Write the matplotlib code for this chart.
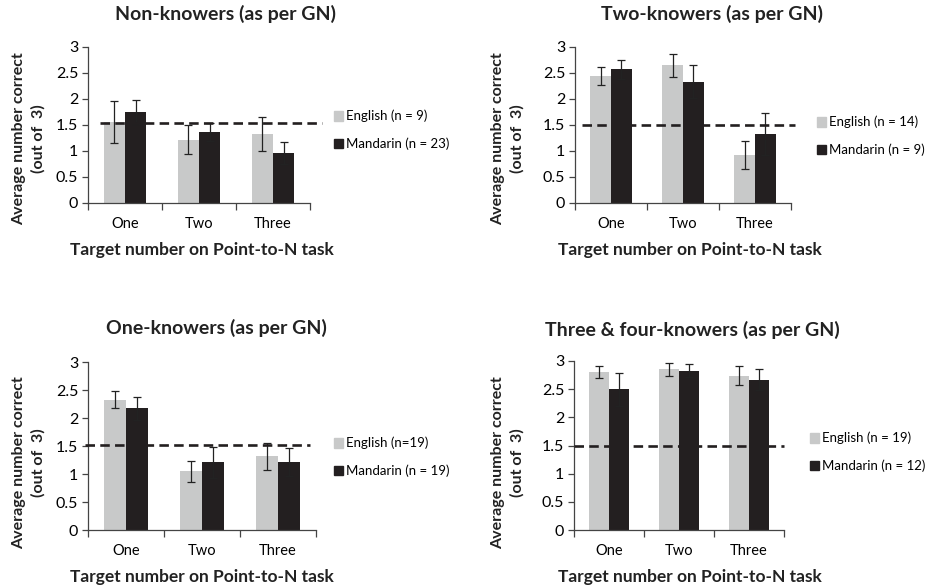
import matplotlib
matplotlib.use("Agg")
import matplotlib.pyplot as plt
from matplotlib.patches import Patch
import numpy as np

plt.rcParams['font.family'] = ['Lato', 'DejaVu Sans']

# data
categories = ["One", "Two", "Three"]
titles = ["Non-knowers (as per GN)", "Two-knowers (as per GN)",
          "One-knowers (as per GN)", "Three & four-knowers (as per GN)"]
english_labels = ["English (n = 9)", "English (n = 14)",
                  "English (n=19)", "English (n = 19)"]
mandarin_labels = ["Mandarin (n = 23)", "Mandarin (n = 9)",
                   "Mandarin (n = 19)", "Mandarin (n = 12)"]
english_means = [[1.56, 1.22, 1.33], [2.44, 2.65, 0.93],
                 [2.33, 1.05, 1.32], [2.80, 2.85, 2.74]]
english_err = [[0.41, 0.28, 0.33], [0.17, 0.22, 0.27],
               [0.15, 0.19, 0.24], [0.11, 0.11, 0.17]]
mandarin_means = [[1.75, 1.36, 0.96], [2.57, 2.33, 1.33],
                  [2.17, 1.21, 1.21], [2.50, 2.83, 2.67]]
mandarin_err = [[0.24, 0.17, 0.21], [0.18, 0.32, 0.40],
                [0.21, 0.28, 0.25], [0.29, 0.11, 0.18]]
chance = [1.54, 1.5, 1.51, 1.5]

W, H = 929, 586
fig = plt.figure(figsize=(W / 100, H / 100), dpi=100)

# layout in pixels: axes box (left, right, top, bottom), title, ylabel, xlabel, legend, dash extents
panels = [
    dict(box=(88, 310, 47, 203), title=(226, 14), ylab=(29, 139), xlab=(202, 250),
         leg=(334, 130), dash=(-0.34, 2.66)),
    dict(box=(575, 791, 47, 203), title=(712, 14), ylab=(508, 139), xlab=(690, 250),
         leg=(817, 136), dash=(-0.40, 2.55)),
    dict(box=(88, 316, 362, 530), title=(216, 328), ylab=(29, 463), xlab=(202, 577),
         leg=(334, 457), dash=(-0.54, 2.42)),
    dict(box=(574, 784, 361, 530), title=(692, 330), ylab=(508, 463), xlab=(690, 577),
         leg=(810, 452), dash=(-0.50, 2.50)),
]

grey = "#c8c9c9"
black = "#231f20"
w = 0.29
x = np.arange(len(categories))

for i, p in enumerate(panels):
    l, r, t, b = p["box"]
    ax = fig.add_axes([l / W, 1 - b / H, (r - l) / W, (b - t) / H])
    ax.bar(x - w / 2, english_means[i], w, color=grey)
    ax.bar(x + w / 2, mandarin_means[i], w, color=black)
    ax.errorbar(x - w / 2, english_means[i], yerr=english_err[i], fmt="none",
                ecolor="#222222", elinewidth=0.9, capsize=3, capthick=0.9)
    ax.errorbar(x + w / 2, mandarin_means[i], yerr=mandarin_err[i], fmt="none",
                ecolor="#222222", elinewidth=0.9, capsize=3, capthick=0.9)
    d0, d1 = p["dash"]
    ax.plot([d0, d1], [chance[i], chance[i]], color=black, lw=1.9,
            linestyle=(0, (3.6, 2.0)), clip_on=False, zorder=5)

    ax.set_xlim(-0.5, 2.5)
    ax.set_ylim(0, 3)
    ax.set_yticks([0, 0.5, 1, 1.5, 2, 2.5, 3])
    ax.set_yticklabels(["0", "0.5", "1", "1.5", "2", "2.5", "3"])
    ax.set_xticks([-0.5, 0.5, 1.5, 2.5])
    ax.set_xticklabels([])
    ax.set_xticks(x, minor=True)
    ax.set_xticklabels(categories, minor=True)
    ax.tick_params(axis="x", which="minor", length=0, pad=10, labelsize=10.5)
    ax.tick_params(axis="x", which="major", length=5, width=0.9, color="#444444")
    ax.tick_params(axis="y", length=4, width=0.9, color="#444444", labelsize=11.5, pad=3)
    for s in ("top", "right"):
        ax.spines[s].set_visible(False)
    for s in ("left", "bottom"):
        ax.spines[s].set_color("#444444")
        ax.spines[s].set_linewidth(0.9)

    tx, ty = p["title"]
    fig.text(tx / W, 1 - ty / H, titles[i], ha="center", va="center",
             fontsize=14, fontweight="bold", color="#222222")
    yx, yy = p["ylab"]
    fig.text(yx / W, 1 - yy / H, "Average number correct\n(out of  3)", rotation=90,
             ha="center", va="center", multialignment="center",
             fontsize=11.5, fontweight="bold", color="#222222", linespacing=1.45)
    xx, xy = p["xlab"]
    fig.text(xx / W, 1 - xy / H, "Target number on Point-to-N task", ha="center",
             va="center", fontsize=12.5, fontweight="bold", color="#222222")

    lx, ly = p["leg"]
    handles = [Patch(color=grey, label=english_labels[i]),
               Patch(color=black, label=mandarin_labels[i])]
    fig.legend(handles=handles, loc="center left", bbox_to_anchor=(lx / W, 1 - ly / H),
               frameon=False, fontsize=9.5, handlelength=0.65, handleheight=0.75,
               handletextpad=0.25, labelspacing=1.15, borderpad=0, borderaxespad=0)

fig.savefig("out.png", dpi=100)
